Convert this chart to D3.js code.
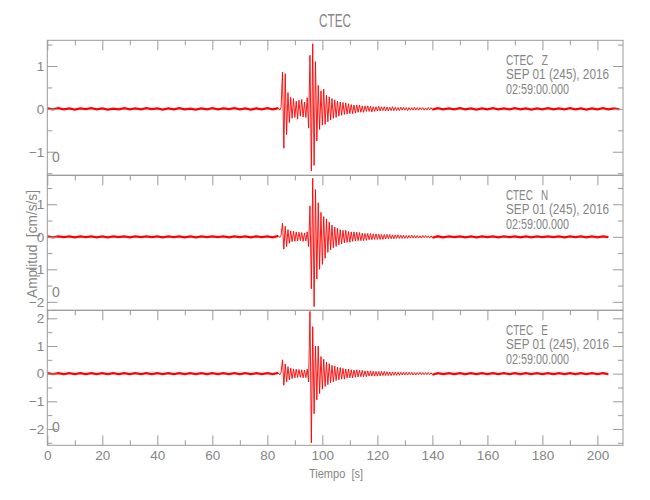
<!DOCTYPE html>
<html><head><meta charset="utf-8">
<script src="https://cdn.jsdelivr.net/npm/d3@7"></script>
<style>
html,body{margin:0;padding:0;background:#fff;}
svg text{font-family:"Liberation Sans","DejaVu Sans",sans-serif;fill:#858585;}
</style></head>
<body><svg id="chart" width="650" height="500"></svg>
<script>
// ---- data ----
const title = "CTEC";
const components = ["Z", "N", "E"];
const stationLabel = "CTEC";
const dateLabel = "SEP 01 (245), 2016";
const timeLabel = "02:59:00.000";
const xTicks = [0, 20, 40, 60, 80, 100, 120, 140, 160, 180, 200];
const xDomain = [0, 209.3];
const yDomains = [[-1.55, 1.6], [-2.26, 1.89], [-2.59, 2.29]];
const yTicks = [[-1, 0, 1], [-2, -1, 0, 1], [-2, -1, 0, 1, 2]];

// pre-event noise: t = 0, 2, 4 ... 82 s
const preZ = [0.01,-0.01,0.015,-0.01,0.01,-0.015,0.01,-0.005,0.015,-0.01,
              0.01,-0.015,0.005,-0.01,0.015,-0.01,0.01,-0.01,0.015,-0.005,
              0.01,-0.015,0.01,-0.01,0.015,-0.01,0.005,-0.015,0.01,-0.01,
              0.015,-0.01,0.01,-0.005,0.015,-0.01,0.01,-0.015,0.01,-0.01,
              0.015,-0.01];
const preN = [0.01,-0.015,0.015,-0.01,0.015,-0.015,0.01,-0.01,0.015,-0.015,
              0.01,-0.015,0.01,-0.01,0.015,-0.015,0.01,-0.01,0.015,-0.01,
              0.015,-0.015,0.01,-0.01,0.015,-0.015,0.01,-0.015,0.015,-0.01,
              0.015,-0.01,0.01,-0.015,0.015,-0.01,0.01,-0.015,0.015,-0.01,
              0.015,-0.015];
const preE = [0.015,-0.015,0.02,-0.015,0.015,-0.02,0.015,-0.015,0.02,-0.015,
              0.015,-0.02,0.015,-0.015,0.02,-0.015,0.015,-0.015,0.02,-0.015,
              0.015,-0.02,0.015,-0.015,0.02,-0.015,0.015,-0.02,0.015,-0.015,
              0.02,-0.015,0.015,-0.015,0.02,-0.015,0.015,-0.02,0.015,-0.015,
              0.02,-0.015];
// event: t = 84.0, 84.5 ... 140.0 s
const eventZ = [0.02,-0.03,0.04,0.86,-0.92,0.82,-0.6,0.38,-0.32,0.27,
  -0.22,0.24,-0.2,0.18,-0.24,0.2,-0.17,0.22,-0.19,0.16,
  -0.2,0.26,-0.45,1.25,-1.45,1.52,-1.32,1.1,-0.75,0.55,
  -0.48,0.42,-0.38,0.46,-0.36,0.32,-0.3,0.28,-0.26,0.24,
  -0.22,0.21,-0.2,0.18,-0.17,0.16,-0.15,0.15,-0.13,0.14,
  -0.12,0.12,-0.11,0.1,-0.11,0.09,-0.1,0.09,-0.08,0.09,
  -0.08,0.07,-0.08,0.07,-0.06,0.07,-0.06,0.06,-0.07,0.05,
  -0.06,0.05,-0.05,0.06,-0.05,0.05,-0.04,0.05,-0.05,0.04,
  -0.05,0.04,-0.04,0.05,-0.04,0.04,-0.04,0.03,-0.04,0.04,
  -0.03,0.04,-0.03,0.03,-0.04,0.03,-0.03,0.03,-0.03,0.04,
  -0.03,0.03,-0.03,0.03,-0.02,0.03,-0.03,0.02,-0.03,0.03,
  -0.02,0.03,-0.02];
const eventN = [0.03,-0.02,0.05,0.42,-0.38,0.32,-0.3,0.22,-0.2,0.18,
  -0.15,0.17,-0.14,0.15,-0.13,0.14,-0.12,0.13,-0.14,0.12,
  -0.13,0.15,-0.3,0.95,-1.6,1.8,-2.15,1.45,-1.3,1.05,
  -1.0,0.75,-0.85,0.62,-0.66,0.55,-0.48,0.45,-0.4,0.36,
  -0.34,0.3,-0.3,0.26,-0.25,0.22,-0.22,0.2,-0.19,0.2,
  -0.17,0.16,-0.17,0.15,-0.14,0.15,-0.13,0.14,-0.12,0.13,
  -0.12,0.11,-0.12,0.1,-0.11,0.1,-0.09,0.1,-0.09,0.09,
  -0.08,0.09,-0.08,0.08,-0.08,0.07,-0.08,0.07,-0.07,0.07,
  -0.06,0.07,-0.06,0.06,-0.06,0.06,-0.05,0.06,-0.05,0.05,
  -0.05,0.05,-0.05,0.04,-0.05,0.04,-0.04,0.05,-0.04,0.04,
  -0.04,0.04,-0.04,0.03,-0.04,0.04,-0.03,0.04,-0.03,0.03,
  -0.04,0.03,-0.03];
const eventE = [0.03,-0.04,0.05,0.5,-0.42,0.35,-0.3,0.25,-0.22,0.2,
  -0.18,0.17,-0.15,0.16,-0.14,0.15,-0.13,0.14,-0.15,0.13,
  -0.14,0.16,-0.3,2.25,-2.5,1.7,-1.45,1.0,-0.95,1.0,
  -0.72,0.62,-0.56,0.52,-0.46,0.42,-0.4,0.36,-0.33,0.3,
  -0.3,0.28,-0.25,0.24,-0.22,0.22,-0.2,0.19,-0.2,0.17,
  -0.16,0.17,-0.15,0.14,-0.15,0.13,-0.13,0.14,-0.12,0.12,
  -0.11,0.12,-0.11,0.1,-0.11,0.1,-0.09,0.1,-0.09,0.09,
  -0.09,0.08,-0.09,0.08,-0.08,0.08,-0.07,0.08,-0.07,0.07,
  -0.07,0.06,-0.07,0.06,-0.06,0.06,-0.06,0.05,-0.06,0.05,
  -0.05,0.06,-0.05,0.05,-0.05,0.05,-0.04,0.05,-0.05,0.04,
  -0.05,0.04,-0.04,0.05,-0.04,0.04,-0.04,0.04,-0.04,0.04,
  -0.04,0.03,-0.04];
// post-event: t = 142, 144 ... end
const postZ = [0.015,-0.01,0.01,-0.01,0.015,-0.01,0.01,-0.015,0.01,-0.01,
  0.015,-0.01,0.01,-0.01,0.015,-0.01,0.01,-0.015,0.01,-0.01,
  0.015,-0.01,0.01,-0.01,0.015,-0.01,0.01,-0.015,0.01,-0.01,
  0.015,-0.01,0.01,-0.01];
const postN = [0.015,-0.015,0.015,-0.01,0.015,-0.015,0.01,-0.015,0.015,-0.01,
  0.015,-0.015,0.01,-0.01,0.015,-0.015,0.01,-0.015,0.015,-0.01,
  0.015,-0.01,0.015,-0.015,0.01,-0.01,0.015,-0.015,0.01,-0.015,
  0.015,-0.01];
const postE = [0.02,-0.015,0.015,-0.02,0.015,-0.015,0.02,-0.015,0.015,-0.015,
  0.02,-0.015,0.015,-0.02,0.015,-0.015,0.02,-0.015,0.015,-0.015,
  0.02,-0.015,0.015,-0.02,0.015,-0.015,0.02,-0.015,0.015,-0.015,
  0.02,-0.015];
const pre = [preZ, preN, preE];
const events = [eventZ, eventN, eventE];
const post = [postZ, postN, postE];

// ---- layout ----
const left = 47.3, right = 623;
const panelTops = [40.3, 175.3, 310.3];
const panelH = 135;
const axisColor = "#9a9a9a";

const svg = d3.select("#chart");
const x = d3.scaleLinear().domain(xDomain).range([left, right]);

svg.append("text").attr("x", 335).attr("y", 27)
  .attr("text-anchor", "middle").attr("font-size", 18)
  .attr("textLength", 32).attr("lengthAdjust", "spacingAndGlyphs").text(title);

const minorX = d3.range(10, 210, 20);
const allMinorY = d3.range(-2.5, 2.6, 0.5).filter(v => Math.abs(v % 1) > 0.1);

components.forEach((comp, i) => {
  const top = panelTops[i], bottom = top + panelH;
  const y = d3.scaleLinear().domain(yDomains[i]).range([bottom, top]);
  const g = svg.append("g");

  // trace: quiet parts drawn as a thicker noise band, event as a fine line
  const line = d3.line().x(d => x(d[0])).y(d => y(d[1]));
  const prePts = pre[i].map((v, k) => [k * 2, v]);
  const evPts = events[i].map((v, k) => [84 + k * 0.5, v]);
  const postPts = post[i].map((v, k) => [142 + k * 2, v]);
  g.append("path").datum(prePts.concat([evPts[0]])).attr("d", line)
    .attr("fill", "none").attr("stroke", "#ff0000").attr("stroke-width", 2.3);
  g.append("path").datum([evPts[evPts.length - 1]].concat(postPts)).attr("d", line)
    .attr("fill", "none").attr("stroke", "#ff0000").attr("stroke-width", 2.3);
  g.append("path").datum(evPts).attr("d", line)
    .attr("fill", "none").attr("stroke", "#ff0000").attr("stroke-width", 1)
    .attr("stroke-opacity", 0.9).attr("stroke-linejoin", "miter");

  // frame
  g.append("rect").attr("x", left).attr("y", top).attr("width", right - left).attr("height", panelH)
    .attr("fill", "none").attr("stroke", axisColor).attr("stroke-width", 1);

  const minorY = allMinorY.filter(v => v > yDomains[i][0] && v < yDomains[i][1]);
  const styleAxis = sel => { sel.select(".domain").remove(); sel.selectAll("line").attr("stroke", axisColor); sel.selectAll("text").attr("fill", "#858585").attr("font-family", null); };

  // left axis
  g.append("g").attr("transform", `translate(${left},0)`)
    .call(d3.axisLeft(y).tickValues(yTicks[i]).tickSize(-10).tickPadding(3).tickFormat(d3.format("d")))
    .call(sel => sel.selectAll("text").attr("font-size", 13.5))
    .call(styleAxis);
  g.append("g").attr("transform", `translate(${left},0)`)
    .call(d3.axisLeft(y).tickValues(minorY).tickSize(-5).tickFormat(""))
    .call(styleAxis);
  // right axis
  g.append("g").attr("transform", `translate(${right},0)`)
    .call(d3.axisRight(y).tickValues(yTicks[i]).tickSize(-10).tickFormat(""))
    .call(styleAxis);
  g.append("g").attr("transform", `translate(${right},0)`)
    .call(d3.axisRight(y).tickValues(minorY).tickSize(-5).tickFormat(""))
    .call(styleAxis);
  // top axis
  g.append("g").attr("transform", `translate(0,${top})`)
    .call(d3.axisTop(x).tickValues(xTicks).tickSize(-10).tickFormat(""))
    .call(styleAxis);
  g.append("g").attr("transform", `translate(0,${top})`)
    .call(d3.axisTop(x).tickValues(minorX).tickSize(-5).tickFormat(""))
    .call(styleAxis);
  if (i === components.length - 1) {
    g.append("g").attr("transform", `translate(0,${bottom})`)
      .call(d3.axisBottom(x).tickValues(xTicks).tickSize(-10).tickPadding(3).tickFormat(d3.format("d")))
      .call(sel => sel.selectAll("text").attr("font-size", 13.5).attr("dy", "0.9em"))
      .call(styleAxis);
    g.append("g").attr("transform", `translate(0,${bottom})`)
      .call(d3.axisBottom(x).tickValues(minorX).tickSize(-5).tickFormat(""))
      .call(styleAxis);
  }

  // station text
  const tx = 506;
  g.append("text").attr("x", tx).attr("y", top + 24.5).attr("font-size", 14)
    .attr("xml:space", "preserve").attr("textLength", 42).attr("lengthAdjust", "spacingAndGlyphs")
    .text(stationLabel + "   " + comp);
  g.append("text").attr("x", tx).attr("y", top + 39).attr("font-size", 14)
    .attr("textLength", 103).attr("lengthAdjust", "spacingAndGlyphs").text(dateLabel);
  g.append("text").attr("x", tx).attr("y", top + 53.5).attr("font-size", 14)
    .attr("textLength", 63).attr("lengthAdjust", "spacingAndGlyphs").text(timeLabel);
  g.append("text").attr("x", 52).attr("y", bottom - 13.5).attr("font-size", 14).text("0");
});

svg.append("text").attr("x", 336).attr("y", 478).attr("text-anchor", "middle")
  .attr("font-size", 13.5).attr("xml:space", "preserve")
  .attr("textLength", 54).attr("lengthAdjust", "spacingAndGlyphs").text("Tiempo  [s]");
svg.append("text").attr("transform", "translate(37,244) rotate(-90)")
  .attr("text-anchor", "middle").attr("font-size", 14.5).attr("xml:space", "preserve")
  .attr("textLength", 108).attr("lengthAdjust", "spacingAndGlyphs")
  .text("Amplitud  [cm/s/s]");
</script></body></html>
